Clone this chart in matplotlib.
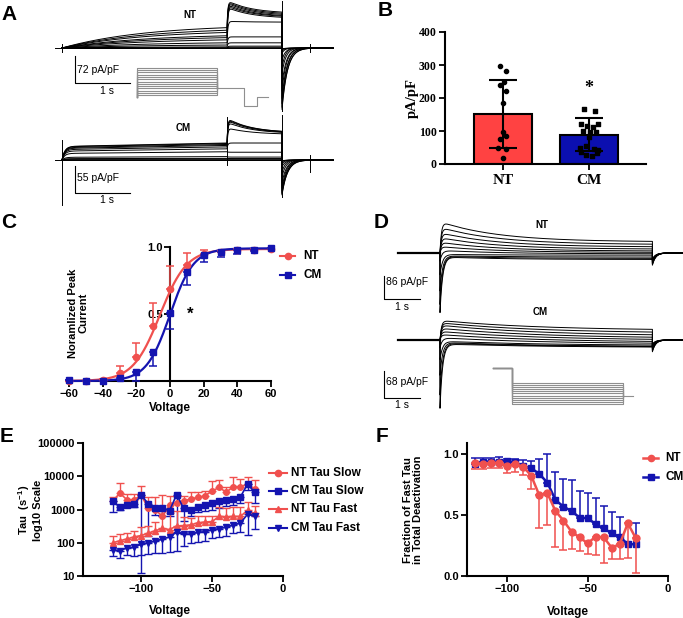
import numpy as np
import matplotlib
matplotlib.use('Agg')
import matplotlib.pyplot as plt
from matplotlib.ticker import LogLocator, NullFormatter, FixedLocator

W, H = 683, 618
plt.rcParams['font.family'] = ['Liberation Sans', 'DejaVu Sans']
plt.rcParams['mathtext.default'] = 'regular'

RED = '#F0504E'
BLUE = '#1414B0'
BAR_RED = '#FF4242'
BAR_BLUE = '#0B0FB0'
GRAY = '#8f8f8f'

# ---------------- DATA ----------------
# Panel A : current traces (pA/pF), 13 sweeps
A_step_mV = [-70, -60, -50, -40, -30, -20, -10, 0, 10, 20, 30, 40, 50]
A_NT_pulse1_end = [0, 0, 0, 0, 3, 8, 14, 22, 28, 33, 42, 48, 55]
A_NT_pulse2_peak = [0, 0, 2, 5, 14, 30, 72, 110, 114, 118, 122, 125, 128]
A_NT_pulse2_end = [0, 0, 2, 5, 14, 30, 70, 83, 86, 88, 91, 94, 97]
A_NT_tail_peak = [0, 3, 8, 14, 33, 53, 69, 97, 116, 136, 150, 160, 166]
A_NT_tail_tau = [0.05, 0.05, 0.05, 0.05, 0.06, 0.06, 0.07, 0.08, 0.08, 0.09, 0.09, 0.1, 0.1]
A_NT_art_t = [0, 4, 4.5]
A_NT_art_lo = [-10, -172, -12]
A_NT_art_hi = [12, 127, 12]

A_CM_pulse1_end = [0, 0, 0, 2, 3.5, 7, 17, 23, 27, 30, 32, 34, 35]
A_CM_pulse2_peak = [0, 0, 0, 2, 3, 6, 16, 35, 66, 78, 82, 84, 86]
A_CM_pulse2_end = [0, 0, 0, 2, 3, 6, 16, 35, 54, 57, 58, 59, 59]
A_CM_tail_peak = [0, 2, 4, 8, 14, 25, 35, 47, 58, 64, 68, 70, 72]
A_CM_tail_tau = [0.05, 0.05, 0.05, 0.05, 0.06, 0.06, 0.07, 0.08, 0.08, 0.09, 0.09, 0.1, 0.1]
A_CM_art_t = [0, 3, 4, 4.5]
A_CM_art_lo = [-92, -10, -76, -25]
A_CM_art_hi = [41, 88, 93, 10]

# Panel A protocol (s, mV)
A_prot_step_dur = 3.0
A_prot_after_t = [3.0, 4.0, 4.0, 4.5, 4.5, 4.9]
A_prot_after_v = [-40, -40, -120, -120, -80, -80]
A_prot_hold = -80

# Panel B
B_groups = ['NT', 'CM']
B_mean = [152, 89]
B_sd = [103, 49]
B_NT_points = [298, 283, 250, 238, 222, 184, 97, 86, 75, 48, 44, 18]
B_NT_jitter = [-3, 3, 0.7, -3.3, 3, 0, 0, 3, -3, -5, 3, 0]
B_CM_points = [167, 160, 122, 115, 113, 120, 100, 98, 97, 82, 55, 48, 45, 42, 35, 28, 25, 32]
B_CM_jitter = [-5, 6, -8, -2, 4, 9, -6, 1, 7, 0, -3, -9, 5, 9, -8, -3, 3, 8]

# Panel C
C_V = [-60, -50, -40, -30, -20, -10, 0, 10, 20, 30, 40, 50, 60]
C_NT = [0.0, 0.0, 0.01, 0.057, 0.18, 0.41, 0.685, 0.864, 0.95, 0.963, 0.975, 0.98, 0.985]
C_NT_err = [0, 0, 0.005, 0.057, 0.105, 0.175, 0.17, 0.09, 0.025, 0.01, 0.01, 0.005, 0.005]
C_CM = [0.01, 0.0, 0.0, 0.02, 0.07, 0.22, 0.51, 0.81, 0.94, 0.963, 0.975, 0.98, 0.99]
C_CM_err = [0.005, 0, 0, 0.01, 0.07, 0.107, 0.125, 0.09, 0.05, 0.04, 0.025, 0.01, 0.005]
C_NT_fit = dict(top=0.985, vhalf=-6.0, k=8.0)
C_CM_fit = dict(top=0.99, vhalf=0.0, k=7.0)

# Panel D : deactivation traces, 11 sweeps
D_step_mV = [-20, -30, -40, -50, -60, -70, -80, -90, -100, -110, -120]
D_NT_peak = [116, 95, 75, 57, 40, 24, 10, -5, -10, -12, -14]
D_NT_end = [41, 31, 22, 14, 7, 2, -3, -8, -15, -20, -24]
D_NT_tau = [1.6, 1.6, 1.6, 1.6, 1.6, 1.6, 1.6, 1.6, 1.6, 1.6, 1.6]
D_NT_spike = [0, 0, 0, 0, 0, 0, 30, 80, 140, 190, 220]
D_NT_notch = [45, 42, 40, 38, 35, 32, 30, 28, 26, 24, 22]
D_CM_peak = [50, 44, 38, 30, 22, 14, 6, -3, -6, -8, -10]
D_CM_end = [24, 17, 10, 4, -1, -6, -10, -14, -17, -18, -19]
D_CM_tau = [2.8, 2.8, 2.8, 2.8, 2.8, 2.8, 2.8, 2.8, 2.8, 2.8, 2.8]
D_CM_spike = [0, 0, 0, 0, 0, 0, 20, 50, 90, 140, 174]
D_CM_notch = [30, 28, 26, 24, 22, 20, 18, 16, 14, 12, 10]
D_prot_pre_v = 50
D_prot_pre_dur = 1.0
D_prot_step_dur = 6.0
D_prot_post_v = -80
D_prot_post_dur = 0.55

# Panels E, F
V_EF = [-120, -115, -110, -105, -100, -95, -90, -85, -80, -75, -70,
        -65, -60, -55, -50, -45, -40, -35, -30, -25, -20]
E_NT_slow = [1820, 3100, 1960, 1960, 2700, 1100, 980, 620, 1320, 1620, 1820,
             2050, 2300, 2600, 3600, 4600, 3300, 4900, 4800, 5900, 4100]
E_NT_slow_top = [2350, 6300, 2900, 2900, 5200, 2300, 2450, 2750, 2600, 2600, 2500,
                 3250, 3300, 3650, 7400, 7800, 4700, 9400, 8200, 9400, 7800]
E_CM_slow = [1820, 1150, 1400, 1450, 2700, 1500, 1100, 1100, 920, 2800, 1080,
             940, 1150, 1350, 1600, 1750, 1900, 2100, 2400, 5800, 3300]
E_CM_slow_bot = [870, 1000, 1150, 1150, 12, 160, 690, 650, 620, 200, 440,
                 620, 850, 900, 1000, 1100, 1250, 1400, 1600, 3800, 1600]
E_NT_fast = [100, 115, 130, 150, 165, 195, 230, 270, 250, 320, 330,
             345, 400, 420, 435, 620, 610, 620, 620, 950, 760]
E_NT_fast_top = [160, 180, 200, 230, 290, 330, 420, 900, 800, 900, 600,
                 560, 620, 650, 650, 1200, 1100, 1150, 1150, 1700, 1300]
E_CM_fast = [60, 58, 70, 72, 90, 100, 112, 128, 150, 210, 185,
             180, 205, 215, 245, 265, 295, 340, 390, 720, 620]
E_CM_fast_bot = [40, 35, 42, 40, 42, 46, 48, 50, 53, 55, 78,
                 98, 105, 115, 138, 150, 165, 195, 210, 170, 260]

F_NT = [0.923, 0.918, 0.923, 0.93, 0.90, 0.915, 0.896, 0.82, 0.66, 0.678, 0.533,
        0.454, 0.363, 0.317, 0.268, 0.322, 0.317, 0.232, 0.262, 0.432, 0.309]
F_NT_bot = [0.88, 0.88, 0.885, 0.885, 0.847, 0.855, 0.828, 0.71, 0.39, 0.418, 0.24,
            0.213, 0.221, 0.205, 0.18, 0.172, 0.104, 0.137, 0.14, 0.145, 0.022]
F_CM = [0.918, 0.937, 0.937, 0.937, 0.943, 0.932, 0.90, 0.883, 0.836, 0.765, 0.623,
        0.568, 0.533, 0.478, 0.473, 0.426, 0.39, 0.35, 0.322, 0.26, 0.26]
F_CM_top = [0.965, 0.965, 0.97, 0.975, 0.96, 0.955, 0.95, 0.943, 0.955, 1.0, 0.85,
            0.795, 0.79, 0.70, 0.68, 0.64, 0.575, 0.525, 0.48, 0.275, 0.432]

# ---------------- FIGURE ----------------
fig = plt.figure(figsize=(W / 100, H / 100), dpi=100)


def R(l, t, r, b):
    return [l / W, 1 - b / H, (r - l) / W, (b - t) / H]


class TraceAx:
    def __init__(self, l, t, r, b, t0px, pxs, base_px, perpx):
        self.ax = fig.add_axes(R(l, t, r, b))
        self.ax.axis('off')
        self.t0px, self.pxs, self.base, self.perpx = t0px, pxs, base_px, perpx
        self.ax.set_xlim(self.X(l), self.X(r))
        self.ax.set_ylim(self.Y(b), self.Y(t))

    def X(self, px):
        return (px - self.t0px) / self.pxs

    def Y(self, py):
        return (self.base - py) * self.perpx

    def scalebar(self, cx, cy, val):
        x0, y0 = self.X(cx), self.Y(cy)
        self.ax.plot([x0, x0, x0 + 1.0], [y0 + val, y0, y0], color='k', lw=0.8)


TR_LW = 0.7


def panelA_traces(ta, p1, p2pk, p2end, tailpk, tailtau, fast_p1, arts):
    t1 = np.linspace(0, 3, 300)
    t2 = np.linspace(3, 4, 150)
    t3 = np.linspace(4, 4.5, 150)
    t4 = np.array([4.5, ta.X(333)])
    tau2 = 0.45
    for i in range(len(p1)):
        if fast_p1:
            s1 = p1[i] * (0.8 + 0.2 * t1 / 3) * (1 - np.exp(-t1 / 0.05))
        else:
            s1 = p1[i] * (1 - np.exp(-t1 / 1.5)) / (1 - np.exp(-3 / 1.5))
        u = t2 - 3
        shape = (np.exp(-u / tau2) - np.exp(-1 / tau2)) / (1 - np.exp(-1 / tau2))
        target = p2end[i] + (p2pk[i] - p2end[i]) * shape
        rise = 1 - np.exp(-u / 0.015)
        s2 = s1[-1] + (target - s1[-1]) * rise
        s3 = -tailpk[i] * np.exp(-(t3 - 4) / tailtau[i])
        s4 = np.zeros_like(t4)
        t = np.concatenate([[ta.X(62) - 0.0], t1, t2, t3, t4])
        y = np.concatenate([[0], s1, s2, s3, s4])
        ta.ax.plot(t, y, color='k', lw=TR_LW)
    for tt, lo, hi in zip(*arts):
        ta.ax.plot([tt, tt], [lo, hi], color='k', lw=TR_LW)


# ---- Panel A ----
taN = TraceAx(55, 0, 340, 112, 62, 55, 48, 2.7)
panelA_traces(taN, A_NT_pulse1_end, A_NT_pulse2_peak, A_NT_pulse2_end,
              A_NT_tail_peak, A_NT_tail_tau, False, (A_NT_art_t, A_NT_art_lo, A_NT_art_hi))
taN.ax.plot([taN.X(55), 0], [0, 0], color='k', lw=TR_LW)
taN.scalebar(75, 83, 72)

taC = TraceAx(55, 112, 340, 210, 62, 55, 160, 2.06)
panelA_traces(taC, A_CM_pulse1_end, A_CM_pulse2_peak, A_CM_pulse2_end,
              A_CM_tail_peak, A_CM_tail_tau, True, (A_CM_art_t, A_CM_art_lo, A_CM_art_hi))
taC.ax.plot([taC.X(55), 0], [0, 0], color='k', lw=TR_LW)
taC.scalebar(75, 193, 55)

# protocol inset A
pa = fig.add_axes(R(130, 60, 275, 112))
pa.axis('off')
pa.set_xlim((130 - 137) / 26.7, (275 - 137) / 26.7)
pa.set_ylim(-120 - (112 - 106.25) / 0.225, 50 + (68 - 60) / 0.225)
for v in A_step_mV:
    pa.plot([0, 0, A_prot_step_dur, A_prot_step_dur], [A_prot_hold, v, v, A_prot_after_v[0]],
            color=GRAY, lw=0.8)
pa.plot(A_prot_after_t, A_prot_after_v, color=GRAY, lw=0.8)

# ---- Panel D ----
def panelD_traces(ta, pk, end, tau, spike, notch):
    t0 = np.array([ta.X(398), 0.0])
    t1 = np.linspace(0, 5.9, 500)
    t2 = np.linspace(5.9, ta.X(683), 120)
    for i in range(len(pk)):
        rise = 1 - np.exp(-t1 / 0.04)
        s1 = (end[i] + (pk[i] - end[i]) * np.exp(-t1 / tau[i])) * rise - spike[i] * np.exp(-t1 / 0.07)
        s2 = -notch[i] * np.exp(-(t2 - 5.9) / 0.09)
        t = np.concatenate([t0, t1, t2])
        y = np.concatenate([[0, 0], s1, s2])
        ta.ax.plot(t, y, color='k', lw=TR_LW)


tdN = TraceAx(375, 205, 683, 318, 440, 36, 253, 3.69)
panelD_traces(tdN, D_NT_peak, D_NT_end, D_NT_tau, D_NT_spike, D_NT_notch)
tdN.ax.plot([tdN.X(398), 0], [0, 0], color='k', lw=1.6)
tdN.scalebar(384, 299, 86)

tdC = TraceAx(375, 300, 683, 412, 440, 36, 340, 2.55)
panelD_traces(tdC, D_CM_peak, D_CM_end, D_CM_tau, D_CM_spike, D_CM_notch)
tdC.ax.plot([tdC.X(398), 0], [0, 0], color='k', lw=1.6)
tdC.scalebar(384, 398, 68)

pd = fig.add_axes(R(485, 360, 645, 410))
pd.axis('off')
pd.set_xlim((485 - 493) / 18.5, (645 - 493) / 18.5)
pd.set_ylim(-120 - (410 - 404) / 0.21, 50 + (368 - 360) / 0.21)
t_end = D_prot_pre_dur + D_prot_step_dur
for v in D_step_mV:
    pd.plot([0, D_prot_pre_dur, D_prot_pre_dur, t_end, t_end],
            [D_prot_pre_v, D_prot_pre_v, v, v, D_prot_post_v], color=GRAY, lw=0.8)
pd.plot([t_end, t_end + D_prot_post_dur], [D_prot_post_v, D_prot_post_v], color=GRAY, lw=0.8)

# ---- common axis style ----
TICKFONT = dict(family='Liberation Sans', weight='bold', size=8)


def style(ax, serif=False):
    for s in ['top', 'right']:
        ax.spines[s].set_visible(False)
    for s in ['left', 'bottom']:
        ax.spines[s].set_linewidth(1.5)
    ax.tick_params(width=1.3, length=4, direction='out', pad=2)
    fam = 'Liberation Serif' if serif else 'Liberation Sans'
    for lab in ax.get_xticklabels() + ax.get_yticklabels():
        lab.set_family(fam)
        lab.set_weight('bold')
        lab.set_size(8.5 if serif else 8)


# ---- Panel B ----
axB = fig.add_axes(R(445, 32, 646, 164))
xpos = [0, 1]
pxu = 86.0
axB.set_xlim(-(503 - 445) / pxu, 1 + (646 - 589) / pxu)
axB.set_ylim(0, 400)
axB.bar(xpos, B_mean, width=58 / pxu, color=[BAR_RED, BAR_BLUE], edgecolor='k', linewidth=1.5, zorder=2)
axB.errorbar(xpos, B_mean, yerr=B_sd, fmt='none', ecolor='k', elinewidth=1.5, capsize=10, capthick=1.5, zorder=3)
axB.scatter(np.array(B_NT_jitter) / pxu + 0, B_NT_points, s=9, color='k', marker='o', zorder=4, clip_on=False)
axB.scatter(np.array(B_CM_jitter) / pxu + 1, B_CM_points, s=9, color='k', marker='s', zorder=4, clip_on=False)
axB.set_xticks(xpos)
axB.set_xticklabels(B_groups)
axB.set_yticks([0, 100, 200, 300, 400])
style(axB, serif=True)
for lab in axB.get_xticklabels():
    lab.set_size(11)
axB.tick_params(axis='x', length=4, pad=3)
axB.text(1, 228, '*', ha='center', va='center', fontsize=13, fontweight='bold', family='Liberation Serif')

# ---- Panel C ----
axC = fig.add_axes(R(69, 247, 271, 381))
axC.set_xlim(-60, 60)
axC.set_ylim(0, 1.0)
vv = np.linspace(-60, 60, 400)
for fit, col in [(C_NT_fit, RED), (C_CM_fit, BLUE)]:
    axC.plot(vv, fit['top'] / (1 + np.exp((fit['vhalf'] - vv) / fit['k'])), color=col, lw=1.6, zorder=3, clip_on=False)
z = np.zeros(len(C_V))
axC.errorbar(C_V, C_NT, yerr=[z, C_NT_err], fmt='o', color=RED, ms=4.5, elinewidth=1.1,
             capsize=3, capthick=1.1, zorder=4, clip_on=False)
axC.errorbar(C_V, C_CM, yerr=[C_CM_err, z], fmt='s', color=BLUE, ms=4.5, elinewidth=1.1,
             capsize=3, capthick=1.1, zorder=4, clip_on=False)
axC.spines['left'].set_position(('data', 0))
axC.set_xticks([-60, -40, -20, 0, 20, 40, 60])
axC.set_yticks([0.5, 1.0])
axC.set_yticklabels(['0.5', '1.0'])
style(axC)
axC.tick_params(axis='y', pad=1)
axC.text(10, 0.5, '*', ha='left', va='center', fontsize=12, fontweight='bold', transform=axC.transData)

# ---- Panel E ----
axE = fig.add_axes(R(83, 443, 283, 576))
axE.set_yscale('log')
axE.set_xlim(-141, 0)
axE.set_ylim(10, 1e5)
V = np.array(V_EF)


def errE(ax, y, end, up, col, mk):
    y = np.array(y, float)
    end = np.array(end, float)
    zero = np.zeros_like(y)
    if up:
        yerr = [zero, np.clip(end - y, 0, None)]
    else:
        yerr = [np.clip(y - end, 0, None), zero]
    ax.errorbar(V, y, yerr=yerr, fmt='-', marker=mk, color=col, ms=4, lw=1.2,
                elinewidth=1.0, capsize=3, capthick=1.0)


errE(axE, E_NT_slow, E_NT_slow_top, True, RED, 'o')
errE(axE, E_CM_slow, E_CM_slow_bot, False, BLUE, 's')
errE(axE, E_NT_fast, E_NT_fast_top, True, RED, '^')
errE(axE, E_CM_fast, E_CM_fast_bot, False, BLUE, 'v')
axE.set_xticks([-100, -50, 0])
axE.yaxis.set_major_locator(FixedLocator([10, 100, 1000, 10000, 100000]))
axE.set_yticklabels(['10', '100', '1000', '10000', '100000'])
axE.yaxis.set_minor_locator(LogLocator(base=10, subs=np.arange(2, 10)))
axE.yaxis.set_minor_formatter(NullFormatter())
style(axE)
axE.tick_params(axis='y', which='minor', length=2.5, width=1.0)

# ---- Panel F ----
axF = fig.add_axes(R(467, 443, 668, 576))
axF.set_xlim(-125, 0)
axF.set_ylim(0, 1.09)
zF = np.zeros(len(V))
axF.errorbar(V, F_NT, yerr=[np.array(F_NT) - np.array(F_NT_bot), zF], fmt='-o', color=RED, ms=5,
             lw=1.8, elinewidth=1.1, capsize=3, capthick=1.1, zorder=4)
axF.errorbar(V, F_CM, yerr=[zF, np.array(F_CM_top) - np.array(F_CM)], fmt='-s', color=BLUE, ms=5,
             lw=1.8, elinewidth=1.1, capsize=3, capthick=1.1, zorder=3)
axF.set_xticks([-100, -50, 0])
axF.set_yticks([0.0, 0.5, 1.0])
axF.set_yticklabels(['0.0', '0.5', '1.0'])
style(axF)

# ---- overlay for text & legends (pixel coords) ----
ov = fig.add_axes([0, 0, 1, 1])
ov.set_xlim(0, W)
ov.set_ylim(H, 0)
ov.axis('off')

for lab, x, y in [('A', 9, 14), ('B', 385, 11), ('C', 9, 223), ('D', 381, 223), ('E', 7, 437), ('F', 382, 437)]:
    ov.text(x, y, lab, fontsize=15, fontweight='bold', ha='center', va='center')

# trace labels
for lab, x, y in [('NT', 190, 15), ('CM', 183, 128), ('NT', 542, 225), ('CM', 540, 312)]:
    ov.text(x, y, lab, fontsize=7, fontweight='bold', ha='center', va='center')
for lab, x, y in [('72 pA/pF', 77, 70), ('55 pA/pF', 77, 178), ('86 pA/pF', 386, 282), ('68 pA/pF', 386, 382)]:
    ov.text(x, y, lab, fontsize=7.5, ha='left', va='center')
for x, y in [(107, 91), (107, 200), (402, 307), (402, 405)]:
    ov.text(x, y, '1 s', fontsize=7.5, ha='center', va='center')

# axis labels
ov.text(412, 98, 'pA/pF', rotation=90, fontsize=10.5, fontweight='bold', family='Liberation Serif',
        ha='center', va='center')
ov.text(78, 313, 'Noramlized Peak\nCurrent', rotation=90, fontsize=8, fontweight='bold',
        ha='center', va='center', linespacing=1.1)
ov.text(170, 408, 'Voltage', fontsize=8.5, fontweight='bold', ha='center', va='center')
ov.text(30, 510, 'Tau  (s$^{-1}$)\nlog10 Scale', rotation=90, fontsize=8, fontweight='bold',
        ha='center', va='center', linespacing=1.1)
ov.text(170, 611, 'Voltage', fontsize=8.5, fontweight='bold', ha='center', va='center')
ov.text(413, 510, 'Fraction of Fast Tau\nin Total Deactivation', rotation=90, fontsize=8,
        fontweight='bold', ha='center', va='center', linespacing=1.1)
ov.text(568, 612, 'Voltage', fontsize=8.5, fontweight='bold', ha='center', va='center')


def leg(x0, x1, y, col, mk, label, tx, lw=1.5, ms=4.5, fs=8.5):
    ov.plot([x0, x1], [y, y], color=col, lw=lw)
    ov.plot([(x0 + x1) / 2], [y], marker=mk, color=col, ms=ms)
    ov.text(tx, y, label, fontsize=fs, fontweight='bold', ha='left', va='center')


leg(280, 295, 256, RED, 'o', 'NT', 303)
leg(280, 295, 275, BLUE, 's', 'CM', 303)
leg(269, 287, 473, RED, 'o', 'NT Tau Slow', 291)
leg(269, 287, 491, BLUE, 's', 'CM Tau Slow', 291)
leg(269, 287, 509, RED, '^', 'NT Tau Fast', 291)
leg(269, 287, 528, BLUE, 'v', 'CM Tau Fast', 291)
leg(643, 658, 458, RED, 'o', 'NT', 665, lw=1.8)
leg(643, 658, 477, BLUE, 's', 'CM', 665, lw=1.8)

fig.savefig('out.png', dpi=100)
